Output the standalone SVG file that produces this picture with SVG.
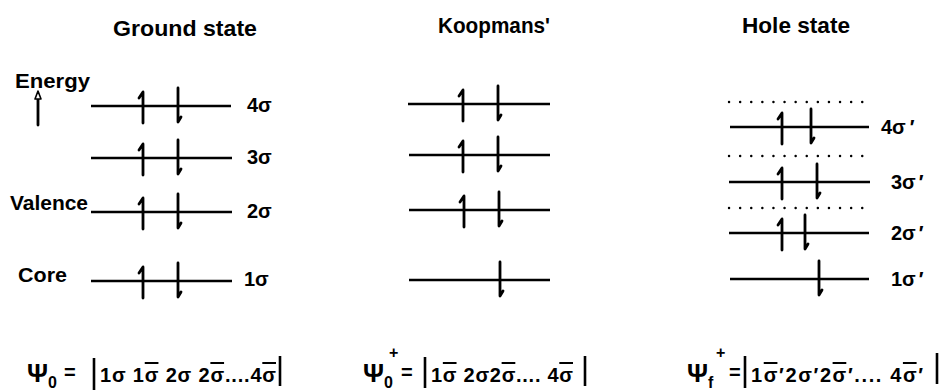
<svg xmlns="http://www.w3.org/2000/svg" width="942" height="392" viewBox="0 0 942 392">
<style>
text{font-family:"Liberation Sans","DejaVu Sans",sans-serif;font-weight:bold;fill:#000}
.title{font-size:22px}
.side{font-size:21px}
.lab{font-size:20px}
.f{font-size:20px}
.ob{text-decoration:overline}
.lv{stroke:#000;stroke-width:2.6;fill:none}
.sp{stroke:#000;stroke-width:2.8;fill:none;stroke-linecap:round;stroke-linejoin:round}
.dot{stroke:#000;stroke-width:2.4;stroke-linecap:round;stroke-dasharray:0.1 11;fill:none}
.bar{stroke:#000;stroke-width:2.6}
</style>
<defs>
<path id="up" class="sp" d="M0,17 V-14 L-4,-8"/>
<path id="dn" class="sp" d="M0,-18 V16 L3,11"/>
</defs>
<rect width="942" height="392" fill="#fff"/>

<g id="titles">
<text class="title" x="113" y="36" textLength="144" lengthAdjust="spacingAndGlyphs">Ground state</text>
<text class="title" x="438" y="33" textLength="112" lengthAdjust="spacingAndGlyphs">Koopmans'</text>
<text class="title" x="742" y="33" textLength="108" lengthAdjust="spacingAndGlyphs">Hole state</text>
</g>

<g id="axis">
<text class="side" x="15" y="88" textLength="75" lengthAdjust="spacingAndGlyphs">Energy</text>
<line x1="38" y1="99" x2="38" y2="125" class="sp"/>
<polygon points="38,91 35,99 41,99" fill="#fff" stroke="#000" stroke-width="1.6" stroke-linejoin="round"/>
<text class="side" x="10" y="210" textLength="78" lengthAdjust="spacingAndGlyphs">Valence</text>
<text class="side" x="18" y="282" textLength="49" lengthAdjust="spacingAndGlyphs">Core</text>
</g>

<g id="ground">
<g id="g4"><line class="lv" x1="91" y1="106" x2="231" y2="106"/><use href="#up" x="143" y="106"/><use href="#dn" x="178" y="106"/><text class="lab" x="247" y="112">4σ</text></g>
<g id="g3"><line class="lv" x1="91" y1="158" x2="232" y2="158"/><use href="#up" x="143" y="158"/><use href="#dn" x="178" y="158"/><text class="lab" x="247" y="164">3σ</text></g>
<g id="g2"><line class="lv" x1="91" y1="212" x2="232" y2="212"/><use href="#up" x="143" y="212"/><use href="#dn" x="178" y="212"/><text class="lab" x="247" y="218">2σ</text></g>
<g id="g1"><line class="lv" x1="91" y1="281" x2="232" y2="281"/><use href="#up" x="143" y="281"/><use href="#dn" x="178" y="281"/><text class="lab" x="244" y="286">1σ</text></g>
</g>

<g id="koopmans">
<g id="k4"><line class="lv" x1="408" y1="104" x2="550" y2="104"/><use href="#up" x="463" y="104"/><use href="#dn" x="498" y="104"/></g>
<g id="k3"><line class="lv" x1="409" y1="155" x2="550" y2="155"/><use href="#up" x="463" y="155"/><use href="#dn" x="498" y="155"/></g>
<g id="k2"><line class="lv" x1="409" y1="210" x2="550" y2="210"/><use href="#up" x="464" y="210"/><use href="#dn" x="499" y="210"/></g>
<g id="k1"><line class="lv" x1="409" y1="280" x2="550" y2="280"/><use href="#dn" x="500" y="280"/></g>
</g>

<g id="hole">
<line class="dot" x1="729" y1="102" x2="872" y2="102"/>
<line class="dot" x1="729" y1="156" x2="872" y2="156"/>
<line class="dot" x1="729" y1="208" x2="872" y2="208"/>
<g id="h4"><line class="lv" x1="730" y1="127" x2="869" y2="127"/><use href="#up" x="782" y="127"/><use href="#dn" x="811" y="127"/><text class="lab" x="881" y="134">4σ<tspan dx="4">′</tspan></text></g>
<g id="h3"><line class="lv" x1="729" y1="182" x2="870" y2="182"/><use href="#up" x="782" y="182"/><use href="#dn" x="817" y="182"/><text class="lab" x="891" y="189">3σ<tspan dx="3">′</tspan></text></g>
<g id="h2"><line class="lv" x1="729" y1="233" x2="869" y2="233"/><use href="#up" x="782" y="233"/><use href="#dn" x="805" y="233"/><text class="lab" x="891" y="240">2σ<tspan dx="3">′</tspan></text></g>
<g id="h1"><line class="lv" x1="730" y1="279" x2="869" y2="279"/><use href="#dn" x="819" y="279"/><text class="lab" x="891" y="286">1σ<tspan dx="3">′</tspan></text></g>
</g>

<g id="formulas">
<g id="f1">
<text x="27" y="382" font-size="26">Ψ<tspan font-size="16" dy="6">0</tspan></text>
<text class="f" x="64" y="379">=</text>
<line class="bar" x1="94" y1="358" x2="94" y2="390"/>
<text class="f" x="100" y="382" textLength="176" lengthAdjust="spacing">1σ 1<tspan class="ob">σ</tspan> 2σ 2<tspan class="ob">σ</tspan>....4<tspan class="ob">σ</tspan></text>
<line class="bar" x1="280" y1="356" x2="280" y2="386"/>
</g>
<g id="f2">
<text x="363" y="382" font-size="26">Ψ<tspan font-size="16" dy="6">0</tspan></text>
<text x="389" y="358" font-size="16">+</text>
<text class="f" x="401" y="379">=</text>
<line class="bar" x1="425" y1="357" x2="425" y2="388"/>
<text class="f" x="431" y="382" textLength="142" lengthAdjust="spacing">1<tspan class="ob">σ</tspan> 2σ2<tspan class="ob">σ</tspan>.... 4<tspan class="ob">σ</tspan></text>
<line class="bar" x1="585" y1="356" x2="585" y2="386"/>
</g>
<g id="f3">
<text x="687" y="382" font-size="26">Ψ<tspan font-size="16" dy="6">f</tspan></text>
<text x="716" y="358" font-size="16">+</text>
<text class="f" x="729" y="379">=</text>
<line class="bar" x1="745" y1="356" x2="745" y2="388"/>
<text class="f" x="751" y="382" textLength="172" lengthAdjust="spacing">1<tspan class="ob">σ</tspan>′2σ′2<tspan class="ob">σ</tspan>′.... 4<tspan class="ob">σ</tspan>′</text>
<line class="bar" x1="937" y1="353" x2="937" y2="384"/>
</g>
</g>
</svg>
